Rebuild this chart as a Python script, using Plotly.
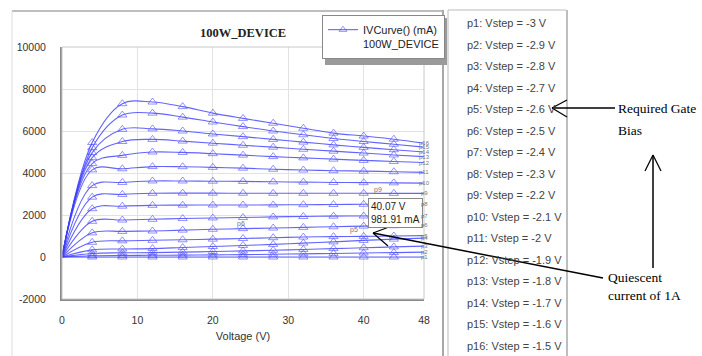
import plotly.graph_objects as go

voltage = [0, 4, 8, 12, 16, 20, 24, 28, 32, 36, 40, 44, 48]

p1 = [0, 0, 0, 0, 0, 0, 0, 0, 0, 0, 0, 0, 0]
p2 = [0, 60, 75, 81, 90, 100, 115, 130, 150, 170, 190, 210, 230]
p3 = [0, 170, 200, 210, 230, 260, 290, 320, 360, 400, 440, 480, 520]
p4 = [0, 340, 380, 400, 450, 500, 550, 600, 660, 720, 790, 850, 900]
p5 = [0, 700, 770, 795, 820, 850, 880, 920, 950, 970, 982, 1000, 1020]
p6 = [0, 1150, 1220, 1238, 1280, 1320, 1350, 1380, 1410, 1440, 1470, 1490, 1510]
p7 = [0, 1700, 1760, 1795, 1830, 1860, 1880, 1910, 1930, 1945, 1952, 1960, 1970]
p8 = [0, 2300, 2420, 2462, 2470, 2476, 2476, 2480, 2490, 2500, 2509, 2515, 2520]
p9 = [0, 2850, 2980, 3033, 3040, 3040, 3035, 3033, 3033, 3033, 3033, 3030, 3030]
p10 = [0, 3400, 3550, 3620, 3620, 3610, 3600, 3580, 3565, 3550, 3540, 3530, 3520]
p11 = [0, 4150, 4200, 4305, 4300, 4270, 4230, 4180, 4140, 4110, 4090, 4060, 4030]
p12 = [0, 4450, 4840, 5000, 4980, 4920, 4850, 4780, 4720, 4660, 4600, 4550, 4500]
p13 = [0, 4730, 5500, 5600, 5520, 5420, 5320, 5230, 5130, 5040, 4950, 4860, 4780]
p14 = [0, 4970, 6080, 6100, 6000, 5860, 5730, 5600, 5470, 5340, 5220, 5110, 5000]
p15 = [0, 5200, 6760, 6850, 6660, 6430, 6210, 6000, 5820, 5640, 5500, 5370, 5230]
p16 = [0, 5450, 7300, 7380, 7160, 6850, 6600, 6370, 6130, 5900, 5760, 5610, 5420]

curves = [p1, p2, p3, p4, p5, p6, p7, p8, p9, p10, p11, p12, p13, p14, p15, p16]
curve_names = ["p%d" % (i + 1) for i in range(16)]
vstep = ["-3", "-2.9", "-2.8", "-2.7", "-2.6", "-2.5", "-2.4", "-2.3",
         "-2.2", "-2.1", "-2", "-1.9", "-1.8", "-1.7", "-1.6", "-1.5"]

x_ticks = [0, 10, 20, 30, 40, 48]
y_ticks = [-2000, 0, 2000, 4000, 6000, 8000, 10000]
y_tick_text = ["-2000", "0", "2000", "4000", "6000", "8000", "10000"]

W, H = 702, 356
L, R, T, B = 62, 424, 47, 299


def px(xp):
    return (xp - L) / (R - L)


def py(yp):
    return (B - yp) / (B - T)


fig = go.Figure()
msize = [0] + [8] * 11 + [0]
for i, (name, ys) in enumerate(zip(curve_names, curves)):
    fig.add_trace(go.Scatter(
        x=voltage, y=ys, mode="lines+markers",
        line=dict(color="rgba(60,60,255,0.8)", width=1.1, shape="spline"),
        marker=dict(symbol="triangle-up-open", size=msize,
                    color="rgba(80,80,255,0.9)", line=dict(width=1)),
        name="IVCurve() (mA)<br>100W_DEVICE",
        showlegend=(i == 0),
        hoverinfo="skip",
    ))

shapes = []
shapes.append(dict(type="rect", xref="paper", yref="paper", x0=0, x1=1, y0=0, y1=1,
                   line=dict(color="#c8c8c8", width=1)))


def seg(x0, y0, x1, y1, color, width):
    shapes.append(dict(type="line", xref="paper", yref="paper",
                       x0=px(x0), y0=py(y0), x1=px(x1), y1=py(y1),
                       line=dict(color=color, width=width)))


seg(12, 11, 443, 11, "#bdbdbd", 2)
seg(12, 11, 12, 356, "#dddddd", 1)
seg(443, 10, 443, 356, "#a8a8a8", 2)
seg(448, 10, 448, 356, "#bbbbbb", 1)
seg(448, 10, 566, 10, "#bbbbbb", 1)
seg(567, 10, 567, 356, "#a8a8a8", 1.5)
shapes.append(dict(type="rect", xref="paper", yref="paper",
                   x0=px(325), x1=px(447), y0=py(65), y1=py(18),
                   fillcolor="#9a9a9a", line=dict(width=0)))
seg(552, 108, 615, 108, "black", 1.5)
seg(552, 108, 567, 100, "black", 1.2)
seg(552, 108, 567, 117, "black", 1.2)
seg(653, 155, 653, 268, "black", 1.5)
seg(653, 155, 645, 171, "black", 1.2)
seg(653, 155, 661, 171, "black", 1.2)
seg(373, 233, 603, 278, "black", 1.5)
seg(373, 233, 389, 227, "black", 1.2)
seg(373, 233, 388, 246, "black", 1.2)

annotations = []
annotations.append(dict(text="<b>100W_DEVICE</b>", xref="paper", yref="paper",
                        x=0.5, y=py(33), xanchor="center", yanchor="middle",
                        showarrow=False,
                        font=dict(family="Liberation Serif", size=12.5, color="#222")))
for i, v in enumerate(vstep):
    annotations.append(dict(text="p%d: Vstep = %s V" % (i + 1, v), xref="paper", yref="paper",
                            x=px(465), y=py(23 + i * 21.5), xanchor="left", yanchor="middle",
                            showarrow=False,
                            font=dict(family="Liberation Sans", size=11, color="#444")))
for t, yy in [("Required Gate", 108), ("Bias", 130)]:
    annotations.append(dict(text=t, xref="paper", yref="paper", x=px(616), y=py(yy),
                            xanchor="left", yanchor="middle", showarrow=False,
                            font=dict(family="Liberation Serif", size=13.5, color="black")))
for t, yy in [("Quiescent", 277), ("current of 1A", 295)]:
    annotations.append(dict(text=t, xref="paper", yref="paper", x=px(606), y=py(yy),
                            xanchor="left", yanchor="middle", showarrow=False,
                            font=dict(family="Liberation Serif", size=13.5, color="black")))
annotations.append(dict(text="40.07 V<br>981.91 mA", xref="paper", yref="paper",
                        x=px(368), y=py(198), xanchor="left", yanchor="top", align="left",
                        showarrow=False, bgcolor="white", bordercolor="#888", borderwidth=1,
                        borderpad=2,
                        font=dict(family="Liberation Sans", size=10, color="#222")))
for t, xx, yy in [("p9", 378, 190), ("p5", 354, 230), ("p6", 241, 224)]:
    annotations.append(dict(text=t, xref="paper", yref="paper", x=px(xx), y=py(yy),
                            xanchor="center", yanchor="middle", showarrow=False,
                            font=dict(family="Liberation Sans", size=7, color="#777")))
for name, ys in zip(curve_names, curves):
    annotations.append(dict(text=name, x=voltage[-1], y=ys[-1], xref="x", yref="y",
                            xanchor="center", yanchor="middle", showarrow=False,
                            font=dict(family="Liberation Sans", size=6, color="#777")))

fig.update_layout(
    width=W, height=H,
    margin=dict(l=L, r=W - R, t=T, b=H - B),
    paper_bgcolor="white", plot_bgcolor="white",
    shapes=shapes, annotations=annotations,
    showlegend=True,
    legend=dict(x=px(322), y=py(15), xanchor="left", yanchor="top",
                bgcolor="white", bordercolor="#888", borderwidth=1,
                valign="top",
                font=dict(family="Liberation Sans", size=11, color="#222")),
    xaxis=dict(range=[0, 48], tickvals=x_ticks, ticks="", showgrid=True,
               gridcolor="#e2e2e2", zeroline=False, showline=True, linecolor="#8a8a8a",
               linewidth=2, ticklabelstandoff=10,
               tickfont=dict(family="Liberation Sans", size=10.5, color="#333"),
               title=dict(text="Voltage (V)", standoff=8,
                          font=dict(family="Liberation Sans", size=11, color="#333"))),
    yaxis=dict(range=[-2000, 10000], tickvals=y_ticks, ticktext=y_tick_text, ticks="",
               showgrid=True,
               gridcolor="#e2e2e2", zeroline=False, showline=True, linecolor="#8a8a8a",
               linewidth=2, ticklabelstandoff=12,
               tickfont=dict(family="Liberation Sans", size=10.5, color="#333")),
)

fig.write_html("out.html")
